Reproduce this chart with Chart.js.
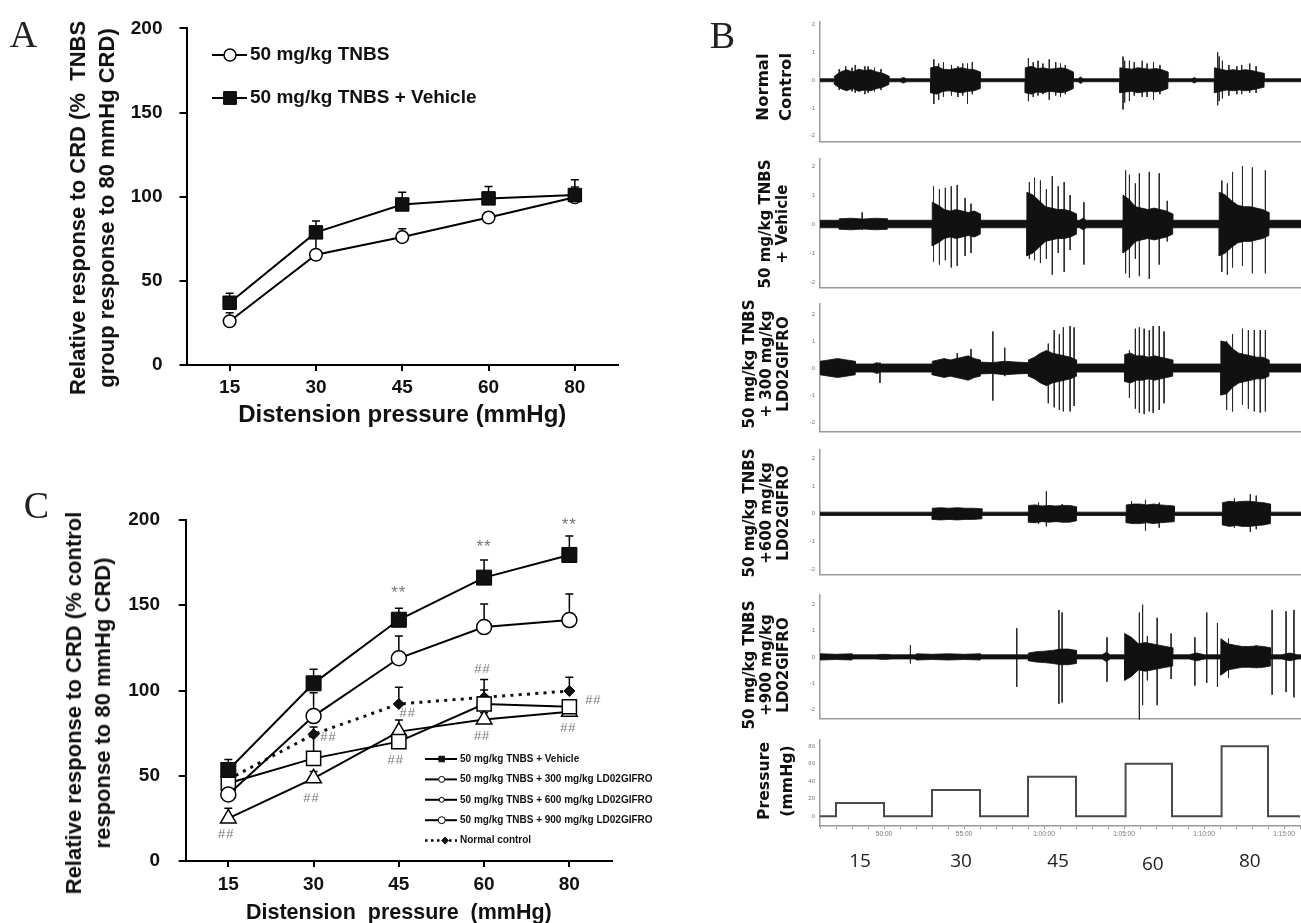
<!DOCTYPE html>
<html><head><meta charset="utf-8">
<script src="https://cdn.jsdelivr.net/npm/chart.js@4.4.1/dist/chart.umd.min.js"></script>
<style>
body{margin:0;background:#fff;}
#fig{position:relative;width:1301px;height:923px;overflow:hidden;background:#fff;}
canvas{position:absolute;}
.lbl{position:absolute;font-family:'Liberation Serif','Times New Roman',serif;font-size:38px;color:#222;line-height:1;transform:translate(-50%,-50%);}
.rt{position:absolute;font-family:'DejaVu Sans',sans-serif;font-weight:bold;color:#111;text-align:center;white-space:nowrap;transform:translate(-50%,-50%) rotate(-90deg);}
.yt{position:absolute;font-family:'Liberation Sans',Arial,sans-serif;font-weight:bold;font-size:22px;line-height:29px;color:#111;text-align:center;white-space:pre;transform:translate(-50%,-50%) rotate(-90deg);}
</style></head>
<body><div id="fig">
<canvas id="cA" width="640" height="440" style="left:0;top:0"></canvas>
<canvas id="cC" width="680" height="460" style="left:0;top:480px"></canvas>
<canvas id="b1"></canvas><canvas id="b2"></canvas><canvas id="b3"></canvas>
<canvas id="b4"></canvas><canvas id="b5"></canvas><canvas id="b6"></canvas>
<div class="lbl" style="left:23.5px;top:33.5px">A</div>
<div class="lbl" style="left:722.5px;top:34.5px">B</div>
<div class="lbl" style="left:36.5px;top:505px">C</div>
<div class="yt" style="left:92px;top:208px">Relative response to CRD (%  TNBS
group response to 80 mmHg CRD)</div>
<div class="yt" style="left:88px;top:703px">Relative response to CRD (% control
response to 80 mmHg CRD)</div>
<div class="rt" style="left:773.5px;top:87px;font-size:16.5px;line-height:22.5px">Normal<br>Control</div>
<div class="rt" style="left:773.5px;top:224px;font-size:15px;line-height:17px">50 mg/kg TNBS<br>+ Vehicle</div>
<div class="rt" style="left:765.5px;top:364px;font-size:15px;line-height:17px">50 mg/kg TNBS<br>+ 300 mg/kg<br>LD02GIFRO</div>
<div class="rt" style="left:766px;top:513px;font-size:15px;line-height:17px">50 mg/kg TNBS<br>+600 mg/kg<br>LD02GIFRO</div>
<div class="rt" style="left:766px;top:665px;font-size:15px;line-height:17px">50 mg/kg TNBS<br>+900 mg/kg<br>LD02GIFRO</div>
<div class="rt" style="left:774.5px;top:781px;font-size:15.7px;line-height:23px">Pressure<br>(mmHg)</div>
</div>
<script>
// ---------------- DATA ----------------
const pressures = ['15', '30', '45', '60', '80'];

// Panel A
const aTnbs = [26, 65.5, 76, 87.6, 99.7];
const aTnbsErr = [5, 13, 5, 3, 6];
const aVeh = [37, 78.8, 95.4, 99, 101];
const aVehErr = [5.6, 6.8, 7.2, 7, 9];

// Panel C
const cVeh = [53.4, 104.2, 141.5, 166.2, 179.5];
const cVehErr = [6.2, 8.2, 6.7, 10.3, 11.1];
const c300 = [39, 85, 118.9, 137.2, 141.3];
const c300Err = [4, 13.7, 13.1, 13.6, 15.3];
const c600 = [25, 48.5, 75.9, 83, 87.6];
const c600Err = [6, 4, 6.8, 4, 2];
const c900 = [45.6, 60.2, 70, 92.1, 90.5];
const c900Err = [4, 14, 6, 8.2, 3];
const cNormal = [47.9, 74.3, 92.1, 96, 99.7];
const cNormalErr = [4, 4.3, 9.8, 10.5, 8];
const cStars = [[2, 158.9], [3, 185.7], [4, 198.4]];            // [category index, value]
const cHash = [[0, 15.8], [1, 36.8], [1, 72.5], [2, 86.6], [2, 59.2], [3, 112.4], [3, 72.9], [4, 94.4], [4, 77.8]];

// Panel B : time axis (min)
const T0 = 46, T1 = 76;
// EMG traces: bursts [tStart, tEnd, envelope amplitudes], spikes [t, top, bottom]
const ncBase = 0.055;
const ncBursts = [
  [46.9, 50.3, [0.15, 0.3, 0.38, 0.3, 0.4, 0.35, 0.38, 0.3, 0.25, 0.15]],
  [51.0, 51.4, [0.1]],
  [52.9, 56.0, [0.45, 0.5, 0.4, 0.38, 0.42, 0.45, 0.4, 0.38, 0.3]],
  [58.8, 61.8, [0.45, 0.5, 0.42, 0.45, 0.4, 0.42, 0.45, 0.4, 0.3]],
  [62.1, 62.4, [0.12]],
  [64.7, 67.7, [0.45, 0.42, 0.4, 0.45, 0.42, 0.4, 0.42, 0.38, 0.3]],
  [69.2, 69.5, [0.1]],
  [70.6, 73.7, [0.45, 0.4, 0.35, 0.38, 0.35, 0.38, 0.35, 0.3, 0.25]]
];
const ncSpikes = [[47.2, 0.4, -0.35], [47.6, 0.5, -0.35], [48.0, 0.45, -0.4], [48.2, 0.55, -0.45], [48.8, 0.5, -0.5], [49.0, 0.5, -0.45], [49.4, 0.45, -0.4], [49.8, 0.4, -0.35],
  [53.1, 0.75, -0.85], [53.4, 0.6, -0.7], [53.7, 0.65, -0.6], [54.2, 0.55, -0.55], [54.6, 0.5, -0.6], [54.9, 0.6, -0.55], [55.2, 0.6, -0.85], [55.5, 0.65, -0.5],
  [59.0, 0.8, -0.75], [59.3, 0.65, -0.6], [59.6, 0.7, -0.55], [59.9, 0.6, -0.5], [60.3, 0.75, -0.7], [60.7, 0.65, -0.55], [61.0, 0.6, -0.6], [61.3, 0.55, -0.5],
  [64.9, 0.85, -1.05], [65.0, 0.7, -0.8], [65.3, 0.7, -0.75], [65.6, 0.65, -0.55], [66.1, 0.7, -0.6], [66.4, 0.6, -0.6], [66.8, 0.65, -0.7], [67.2, 0.55, -0.5],
  [70.8, 1.0, -0.9], [70.9, 0.85, -0.75], [71.1, 0.7, -0.65], [71.5, 0.55, -0.55], [72.0, 0.5, -0.5], [72.3, 0.55, -0.5], [72.8, 0.6, -0.45], [73.2, 0.5, -0.45]];

const vehBase = 0.13;
const vehBursts = [
  [47.2, 50.2, [0.18, 0.2, 0.17, 0.2, 0.18]],
  [53.0, 56.0, [0.75, 0.65, 0.5, 0.45, 0.5, 0.45, 0.4, 0.45, 0.35]],
  [58.9, 62.0, [1.1, 1.0, 0.8, 0.6, 0.55, 0.5, 0.5, 0.45, 0.35]],
  [62.2, 62.6, [0.2]],
  [64.9, 68.0, [1.0, 0.85, 0.6, 0.55, 0.5, 0.55, 0.5, 0.45, 0.35]],
  [70.9, 74.0, [1.1, 1.0, 0.8, 0.65, 0.6, 0.6, 0.55, 0.5, 0.4]]
];
const vehSpikes = [[48.63, 0.4, -0.2],
  [53.08, 1.3, -1.3], [53.45, 1.2, -1.4], [53.82, 1.25, -1.25], [54.19, 1.3, -1.5], [54.56, 1.35, -1.45], [55.05, 0.9, -1.1], [55.42, 0.7, -1.0],
  [59.06, 1.45, -1.2], [59.38, 1.6, -1.25], [59.75, 1.5, -1.35], [60.12, 1.2, -1.2], [60.49, 1.65, -1.75], [60.86, 1.3, -1.0], [61.23, 1.45, -1.65], [61.6, 1.0, -0.9], [62.46, 0.75, -1.4],
  [65.06, 1.85, -1.7], [65.3, 1.7, -1.85], [65.67, 1.4, -1.2], [65.92, 1.75, -1.8], [66.54, 1.8, -1.9], [67.16, 1.75, -1.4], [67.66, 0.8, -0.6],
  [71.06, 1.5, -1.65], [71.41, 1.4, -1.75], [71.73, 1.8, -1.5], [72.35, 2.0, -1.45], [72.97, 1.95, -1.7], [73.78, 1.85, -1.7]];

const d300Base = 0.15;
const d300Bursts = [
  [46.0, 48.2, [0.25, 0.3, 0.35, 0.3, 0.25]],
  [49.3, 49.8, [0.2]],
  [53.0, 56.0, [0.25, 0.3, 0.35, 0.3, 0.35, 0.4, 0.45, 0.35, 0.3]],
  [56.0, 59.0, [0.22, 0.2, 0.25, 0.22, 0.2]],
  [59.0, 62.0, [0.3, 0.4, 0.55, 0.65, 0.55, 0.5, 0.45, 0.4, 0.3]],
  [65.0, 68.0, [0.5, 0.55, 0.45, 0.45, 0.4, 0.45, 0.4, 0.35, 0.3]],
  [71.0, 74.0, [1.0, 0.95, 0.7, 0.55, 0.5, 0.45, 0.4, 0.4, 0.3]]
];
const d300Spikes = [[49.74, 0.2, -0.55], [54.56, 0.55, -0.25], [55.42, 0.7, -0.3], [56.78, 1.35, -1.2], [57.52, 0.75, -0.3],
  [60.24, 0.9, -1.3], [60.61, 1.4, -1.45], [60.93, 1.25, -1.55], [61.18, 1.5, -1.6], [61.6, 1.55, -1.6], [61.85, 1.5, -1.4],
  [65.3, 0.65, -1.1], [65.67, 1.45, -1.5], [65.92, 1.5, -1.65], [66.22, 1.45, -1.7], [66.54, 1.4, -1.6], [66.78, 1.55, -1.65], [67.16, 1.55, -1.55], [67.46, 1.35, -1.3],
  [71.36, 1.0, -1.55], [71.73, 1.25, -1.6], [72.35, 1.45, -1.35], [72.72, 1.4, -1.5], [73.09, 1.4, -1.6], [73.46, 1.4, -1.65], [73.78, 1.4, -1.6]];

const d600Base = 0.06;
const d600Bursts = [
  [53.0, 56.1, [0.2, 0.22, 0.2, 0.22, 0.2, 0.2, 0.18]],
  [59.0, 62.0, [0.3, 0.32, 0.28, 0.3, 0.28, 0.3, 0.3, 0.25]],
  [65.1, 68.1, [0.32, 0.35, 0.35, 0.32, 0.35, 0.32, 0.3, 0.28]],
  [71.1, 74.1, [0.4, 0.45, 0.42, 0.45, 0.45, 0.42, 0.4, 0.35]]
];
const d600Spikes = [[59.63, 0.4, -0.35], [60.12, 0.8, -0.45], [61.11, 0.35, -0.3], [65.43, 0.45, -0.35], [66.3, 0.5, -0.6], [67.16, 0.4, -0.5],
  [71.85, 0.55, -0.5], [72.84, 0.7, -0.65], [73.21, 0.65, -0.55]];

const d900Base = 0.08;
const d900Bursts = [
  [46.0, 48.0, [0.12, 0.1, 0.12]],
  [49.5, 50.5, [0.1]],
  [52.0, 56.0, [0.12, 0.1, 0.12, 0.1, 0.12]],
  [59.0, 62.0, [0.15, 0.2, 0.22, 0.25, 0.3, 0.3, 0.25]],
  [63.6, 64.1, [0.18]],
  [65.0, 68.0, [0.9, 0.75, 0.5, 0.55, 0.5, 0.45, 0.4, 0.35]],
  [69.0, 70.0, [0.15]],
  [71.0, 74.1, [0.7, 0.5, 0.45, 0.4, 0.4, 0.42, 0.4, 0.35]],
  [74.8, 75.8, [0.15]]
];
const d900Spikes = [[51.64, 0.45, -0.25], [58.27, 1.1, -1.15], [60.9, 1.8, -1.8], [61.1, 1.7, -1.75], [63.9, 0.75, -0.95],
  [65.92, 1.7, -2.4], [66.12, 2.0, -1.85], [66.42, 0.8, -0.9], [67.03, 1.5, -1.85], [67.9, 0.9, -0.85],
  [69.38, 0.75, -1.1], [70.12, 1.7, -1.0], [70.79, 1.3, -1.15], [71.48, 0.7, -0.8], [73.21, 0.45, -0.4],
  [74.2, 1.8, -1.45], [75.07, 1.75, -1.35], [75.56, 1.8, -1.55]];

// Pressure protocol
const pStart = [47, 53, 59, 65.1, 71.1];
const pEnd = [50, 56, 62, 68, 74];
const pLevel = [15, 30, 45, 60, 80];
const pLabels = ['15', '30', '45', '60', '80'];
const timeTicks = [50, 55, 60, 65, 70, 75];
const timeTickLabels = ['50:00', '55:00', '1:00:00', '1:05:00', '1:10:00', '1:15:00'];

// ---------------- HELPERS ----------------
Chart.defaults.font.family = "'Liberation Sans', Arial, Helvetica, sans-serif";
Chart.defaults.color = '#111';
const SANS = "'Liberation Sans', Arial, sans-serif";

function marker(ctx, style, x, y, r, fill, bw) {
  ctx.save();
  ctx.fillStyle = fill; ctx.strokeStyle = '#000'; ctx.lineWidth = bw;
  ctx.beginPath();
  if (style === 'circle') ctx.arc(x, y, r, 0, Math.PI * 2);
  else if (style === 'rect') { const s = r * Math.SQRT1_2; ctx.rect(x - s, y - s, 2 * s, 2 * s); }
  else if (style === 'rectRot') { ctx.moveTo(x, y - r); ctx.lineTo(x + r, y); ctx.lineTo(x, y + r); ctx.lineTo(x - r, y); ctx.closePath(); }
  ctx.fill(); if (bw > 0) ctx.stroke();
  ctx.restore();
}

const errorBars = {
  id: 'errorBars',
  beforeDatasetsDraw(chart, args, opts) {
    const ctx = chart.ctx, ys = chart.scales.y;
    chart.data.datasets.forEach((ds, i) => {
      if (!ds.errUp) return;
      const meta = chart.getDatasetMeta(i);
      ctx.save(); ctx.strokeStyle = '#000'; ctx.lineWidth = 1.5;
      meta.data.forEach((pt, j) => {
        const e = ds.errUp[j]; if (e == null) return;
        const y1 = ys.getPixelForValue(ds.data[j] + e);
        ctx.beginPath(); ctx.moveTo(pt.x, pt.y); ctx.lineTo(pt.x, y1);
        ctx.moveTo(pt.x - opts.cap, y1); ctx.lineTo(pt.x + opts.cap, y1); ctx.stroke();
      });
      ctx.restore();
    });
  }
};

function legendPlugin(id, cfg) {
  return {
    id: id,
    afterDraw(chart) {
      const ctx = chart.ctx;
      cfg.items.forEach((it, i) => {
        const y = cfg.y + i * cfg.dy;
        ctx.save();
        ctx.strokeStyle = '#000'; ctx.lineWidth = it.lw;
        ctx.setLineDash(it.dash || []);
        ctx.beginPath(); ctx.moveTo(cfg.x0, y); ctx.lineTo(cfg.x1, y); ctx.stroke();
        ctx.setLineDash([]);
        marker(ctx, it.style, it.mx || cfg.mx, y, it.r, it.fill, it.bw);
        ctx.fillStyle = '#111'; ctx.font = cfg.font; ctx.textBaseline = 'middle'; ctx.textAlign = 'left';
        ctx.fillText(it.text, cfg.tx, y);
        ctx.restore();
      });
    }
  };
}

// ---------------- PANEL A ----------------
new Chart(document.getElementById('cA'), {
  type: 'line',
  data: {
    labels: pressures,
    datasets: [
      { label: '50 mg/kg TNBS + Vehicle', data: aVeh, errUp: aVehErr, borderColor: '#000', borderWidth: 2,
        pointStyle: 'rect', pointRadius: 9.5, pointBackgroundColor: '#111', pointBorderColor: '#000', pointBorderWidth: 1 },
      { label: '50 mg/kg TNBS', data: aTnbs, errUp: aTnbsErr, borderColor: '#000', borderWidth: 2,
        pointStyle: 'circle', pointRadius: 6.3, pointBackgroundColor: '#fff', pointBorderColor: '#000', pointBorderWidth: 1.5 }
    ]
  },
  options: {
    animation: false, responsive: false, devicePixelRatio: 1, events: [],
    layout: { padding: { left: 63, top: 24, right: 22, bottom: 10.6 } },
    plugins: { legend: { display: false }, tooltip: { enabled: false }, errorBars: { cap: 4 } },
    scales: {
      x: {
        type: 'category', offset: true,
        afterFit: s => { s.height = 64.4; },
        border: { color: '#000', width: 2 },
        grid: { drawOnChartArea: false, drawTicks: true, tickLength: 6, color: '#000', lineWidth: 2 },
        ticks: { font: { size: 19, weight: 'bold' }, color: '#111', padding: 5 },
        title: { display: true, text: 'Distension pressure (mmHg)', font: { size: 24, weight: 'bold', lineHeight: 1.2 }, color: '#111', padding: 0 }
      },
      y: {
        min: 0, max: 200,
        afterFit: s => { s.width = 123.5; },
        border: { color: '#000', width: 2 },
        grid: { drawOnChartArea: false, drawTicks: true, tickLength: 7, color: '#000', lineWidth: 2 },
        ticks: { stepSize: 50, font: { size: 19, weight: 'bold' }, color: '#111', padding: 17 }
      }
    }
  },
  plugins: [errorBars, legendPlugin('legA', {
    x0: 212, x1: 247, mx: 230, tx: 250, y: 55, dy: 43, font: "bold 19px " + SANS,
    items: [
      { text: '50 mg/kg TNBS', style: 'circle', r: 6, fill: '#fff', bw: 1.5, lw: 2 },
      { text: '50 mg/kg TNBS + Vehicle', style: 'rect', r: 9, fill: '#111', bw: 1, lw: 2 }
    ]
  })]
});

// ---------------- PANEL C ----------------
const cAnnot = {
  id: 'cAnnot',
  afterDatasetsDraw(chart) {
    const xs = chart.scales.x, ys = chart.scales.y, ctx = chart.ctx;
    const hashDx = [-2, -2, 15, 9, -3, -1.6, -2, 24, -1];
    ctx.save();
    ctx.fillStyle = '#777'; ctx.textAlign = 'center'; ctx.textBaseline = 'middle';
    ctx.font = '17px ' + SANS; ctx.letterSpacing = '1px';
    cStars.forEach(([i, v]) => ctx.fillText('**', xs.getPixelForValue(i), ys.getPixelForValue(v) + 3));
    ctx.font = '13px ' + SANS; ctx.letterSpacing = '1px';
    cHash.forEach(([i, v], k) => ctx.fillText('##', xs.getPixelForValue(i) + hashDx[k], ys.getPixelForValue(v)));
    ctx.restore();
  }
};

new Chart(document.getElementById('cC'), {
  type: 'line',
  data: {
    labels: pressures,
    datasets: [
      { label: '50 mg/kg TNBS + Vehicle', data: cVeh, errUp: cVehErr, borderColor: '#000', borderWidth: 2,
        pointStyle: 'rect', pointRadius: 10.6, pointBackgroundColor: '#111', pointBorderColor: '#000', pointBorderWidth: 1 },
      { label: '50 mg/kg TNBS + 300 mg/kg LD02GIFRO', data: c300, errUp: c300Err, borderColor: '#000', borderWidth: 2,
        pointStyle: 'circle', pointRadius: 7.5, pointBackgroundColor: '#fff', pointBorderColor: '#000', pointBorderWidth: 1.5 },
      { label: '50 mg/kg TNBS + 900 mg/kg LD02GIFRO', data: c900, errUp: c900Err, borderColor: '#000', borderWidth: 2,
        pointStyle: 'rect', pointRadius: 10, pointBackgroundColor: '#fff', pointBorderColor: '#000', pointBorderWidth: 1.5 },
      { label: '50 mg/kg TNBS + 600 mg/kg LD02GIFRO', data: c600, errUp: c600Err, borderColor: '#000', borderWidth: 2,
        pointStyle: 'triangle', pointRadius: 9, pointBackgroundColor: '#fff', pointBorderColor: '#000', pointBorderWidth: 1.5 },
      { label: 'Normal control', data: cNormal, errUp: cNormalErr, borderColor: '#111', borderWidth: 3, borderDash: [3, 5.3],
        pointStyle: 'rectRot', pointRadius: 5.5, pointBackgroundColor: '#111', pointBorderColor: '#000', pointBorderWidth: 1 }
    ]
  },
  options: {
    animation: false, responsive: false, devicePixelRatio: 1, events: [],
    layout: { padding: { left: 59, top: 40, right: 68, bottom: 13.8 } },
    plugins: { legend: { display: false }, tooltip: { enabled: false }, errorBars: { cap: 4 } },
    scales: {
      x: {
        type: 'category', offset: true,
        afterFit: s => { s.height = 65.2; },
        border: { color: '#000', width: 2 },
        grid: { drawOnChartArea: false, drawTicks: true, tickLength: 6, color: '#000', lineWidth: 2 },
        ticks: { font: { size: 19, weight: 'bold' }, color: '#111', padding: 5.9 },
        title: { display: true, text: 'Distension  pressure  (mmHg)', font: { size: 21.5, weight: 'bold', lineHeight: 1.2 }, color: '#111', padding: 0 }
      },
      y: {
        min: 0, max: 200,
        afterFit: s => { s.width = 126.7; },
        border: { color: '#000', width: 2 },
        grid: { drawOnChartArea: false, drawTicks: true, tickLength: 7, color: '#000', lineWidth: 2 },
        ticks: { stepSize: 50, font: { size: 19, weight: 'bold' }, color: '#111', padding: 18.7 }
      }
    }
  },
  plugins: [errorBars, cAnnot, legendPlugin('legC', {
    x0: 425, x1: 457, mx: 441.7, tx: 460, y: 279, dy: 20.4, font: "bold 10px " + SANS,
    items: [
      { text: '50 mg/kg TNBS + Vehicle', style: 'rect', r: 4, fill: '#111', bw: 0.8, lw: 2 },
      { text: '50 mg/kg TNBS + 300 mg/kg LD02GIFRO', style: 'circle', r: 3, fill: '#fff', bw: 1, lw: 2 },
      { text: '50 mg/kg TNBS + 600 mg/kg LD02GIFRO', style: 'circle', r: 2.5, fill: '#fff', bw: 1, lw: 2 },
      { text: '50 mg/kg TNBS + 900 mg/kg LD02GIFRO', style: 'circle', r: 3.5, fill: '#fff', bw: 1, lw: 2 },
      { text: 'Normal control', style: 'rectRot', r: 3.5, fill: '#111', bw: 0.8, lw: 2.5, dash: [2.5, 3.5], mx: 445 }
    ]
  })]
});

// ---------------- PANEL B ----------------
function buildEnvelope(bursts, base, sign) {
  const pts = [{ x: T0, y: sign * base }];
  bursts.forEach(([t0, t1, amps]) => {
    pts.push({ x: t0, y: sign * base });
    const n = amps.length;
    amps.forEach((a, k) => pts.push({ x: n === 1 ? (t0 + t1) / 2 : t0 + k * (t1 - t0) / (n - 1), y: sign * a }));
    pts.push({ x: t1, y: sign * base });
  });
  pts.push({ x: T1, y: sign * base });
  return pts;
}
function buildSpikes(sp) {
  const pts = [];
  sp.forEach(([t, hi, lo]) => { pts.push({ x: t, y: hi }, { x: t, y: lo }, { x: t, y: null }); });
  return pts;
}

const PAD_T = 4, XAX_H = 2, PAD_B = 2, B_LEFT = 700, B_W = 601, Y_W = 120;

function placeCanvas(id, top, bottom) {
  const c = document.getElementById(id);
  c.width = B_W; c.height = (bottom - top) + PAD_T + XAX_H + PAD_B;
  c.style.left = B_LEFT + 'px'; c.style.top = (top - PAD_T) + 'px';
  return c;
}

function traceChart(id, top, bottom, yMin, yMax, bursts, spikes, base) {
  const c = placeCanvas(id, top, bottom);
  new Chart(c, {
    type: 'line',
    data: {
      datasets: [
        { data: buildEnvelope(bursts, base, 1), borderColor: '#111', borderWidth: 0.8, pointRadius: 0, fill: false },
        { data: buildEnvelope(bursts, base, -1), borderColor: '#111', borderWidth: 0.8, pointRadius: 0, fill: '-1', backgroundColor: '#111' },
        { data: buildSpikes(spikes), borderColor: '#2a2a2a', borderWidth: 1, pointRadius: 0, fill: false, spanGaps: false, clip: false }
      ]
    },
    options: {
      animation: false, responsive: false, devicePixelRatio: 1, events: [],
      layout: { padding: { left: 0, right: 0, top: PAD_T, bottom: PAD_B } },
      plugins: { legend: { display: false }, tooltip: { enabled: false } },
      scales: {
        x: { type: 'linear', min: T0, max: T1, afterFit: s => { s.height = XAX_H; },
          border: { color: '#9a9a9a', width: 1.5 }, grid: { display: true, drawOnChartArea: false, drawTicks: false },
          ticks: { display: false } },
        y: { min: yMin, max: yMax, afterFit: s => { s.width = Y_W; },
          border: { color: '#9a9a9a', width: 1.5 }, grid: { display: true, drawOnChartArea: false, drawTicks: false },
          ticks: { stepSize: 1, includeBounds: false, autoSkip: false, font: { size: 6 }, color: '#777', padding: 5 } }
      }
    }
  });
}

traceChart('b1', 17, 146, -2.2, 2.11, ncBursts, ncSpikes, ncBase);
traceChart('b2', 154, 292, -2.19, 2.26, vehBursts, vehSpikes, vehBase);
traceChart('b3', 299, 436, -2.34, 2.38, d300Bursts, d300Spikes, d300Base);
traceChart('b4', 445, 579, -2.17, 2.3, d600Bursts, d600Spikes, d600Base);
traceChart('b5', 590, 723, -2.36, 2.39, d900Bursts, d900Spikes, d900Base);

// Pressure trace
(function () {
  const PX_H = 14, EXTRA = 40;
  const c = document.getElementById('b6');
  const top = 735, bottom = 826;
  c.width = B_W; c.height = (bottom - top) + PAD_T + PX_H + EXTRA;
  c.style.left = B_LEFT + 'px'; c.style.top = (top - PAD_T) + 'px';
  const pts = [{ x: T0, y: 0 }];
  pStart.forEach((s, i) => { pts.push({ x: s, y: 0 }, { x: s, y: pLevel[i] }, { x: pEnd[i], y: pLevel[i] }, { x: pEnd[i], y: 0 }); });
  pts.push({ x: T1, y: 0 });
  const labelDx = [0, 5, 6, 4, 5];
  const bigLabels = {
    id: 'bigLabels',
    afterDraw(chart) {
      const ctx = chart.ctx, xs = chart.scales.x;
      ctx.save();
      ctx.fillStyle = '#222'; ctx.font = "19px 'Open Sans', 'DejaVu Sans', sans-serif";
      ctx.textAlign = 'center'; ctx.textBaseline = 'middle';
      pLabels.forEach((t, i) => {
        ctx.fillText(t, xs.getPixelForValue((pStart[i] + pEnd[i]) / 2) + labelDx[i], chart.chartArea.bottom + 36 + (i === 3 ? 3 : 0));
      });
      ctx.restore();
    }
  };
  new Chart(c, {
    type: 'line',
    data: { datasets: [{ data: pts, borderColor: '#4a4a4a', borderWidth: 2, pointRadius: 0, fill: false }] },
    options: {
      animation: false, responsive: false, devicePixelRatio: 1, events: [],
      layout: { padding: { left: 0, right: 0, top: PAD_T, bottom: EXTRA } },
      plugins: { legend: { display: false }, tooltip: { enabled: false } },
      scales: {
        x: { type: 'linear', min: T0, max: T1, afterFit: s => { s.height = PX_H; },
          border: { color: '#9a9a9a', width: 1.5 },
          grid: { display: true, drawOnChartArea: false, drawTicks: true, tickLength: 3, color: '#9a9a9a' },
          ticks: { stepSize: 1, includeBounds: false, autoSkip: false, maxRotation: 0, maxTicksLimit: 100, font: { size: 6.5 }, color: '#777', padding: 1,
            callback: v => { const k = timeTicks.indexOf(v); return k >= 0 ? timeTickLabels[k] : ''; } } },
        y: { min: -11.2, max: 87.6, afterFit: s => { s.width = Y_W; },
          border: { color: '#9a9a9a', width: 1.5 }, grid: { display: true, drawOnChartArea: false, drawTicks: false },
          ticks: { stepSize: 20, includeBounds: false, autoSkip: false, font: { size: 6 }, color: '#777', padding: 5 } }
      }
    },
    plugins: [bigLabels]
  });
})();
</script>
</body></html>
